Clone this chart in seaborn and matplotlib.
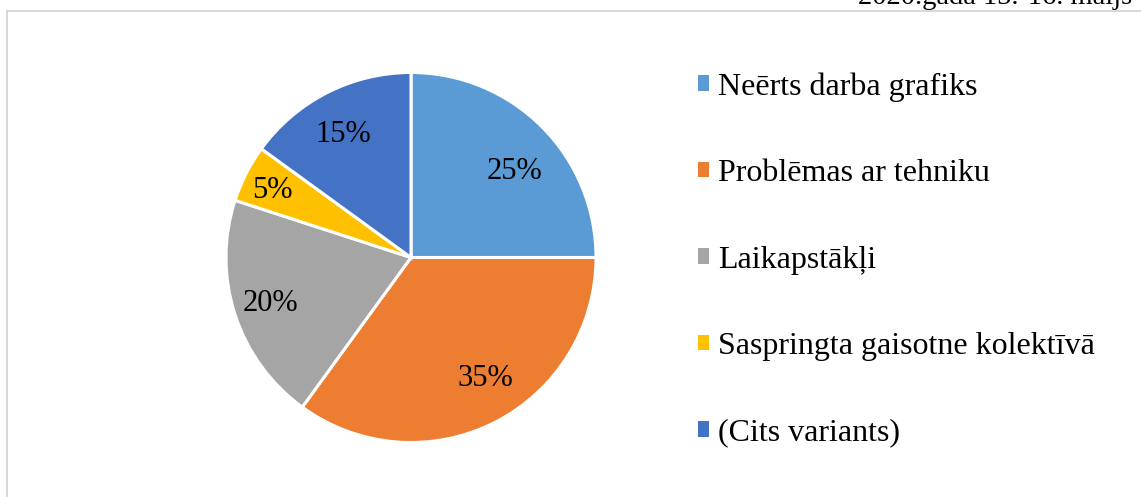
import numpy as np
import seaborn as sns
import matplotlib.pyplot as plt
from matplotlib.patches import Rectangle, Patch

# data
categories = [
    "Neērts darba grafiks",
    "Problēmas ar tehniku",
    "Laikapstākļi",
    "Saspringta gaisotne kolektīvā",
    "(Cits variants)",
]
shares = [25, 35, 20, 5, 15]
colors = ["#5B9BD5", "#ED7D31", "#A5A5A5", "#FFC000", "#4472C4"]
date_text = "2020.gada 15.-16. maijs"

# label placement (fraction of radius, angle tweak in degrees)
label_dist = [0.74, 0.753, 0.794, 0.84, 0.776]
label_turn = [-4, 5.5, -1, 0, 1]


def main():
    sns.set_theme(style="white")
    plt.rcParams["font.family"] = ["Liberation Serif", "DejaVu Serif"]
    plt.rcParams["text.color"] = "black"
    palette = sns.color_palette(colors)

    W, H = 1141, 497
    fig = plt.figure(figsize=(W / 100, H / 100), dpi=100)

    # chart frame (cut off at right and bottom)
    fig.patches.append(
        Rectangle((6.5 / W, -0.1), 1.2, 1 - 10.5 / H + 0.1,
                  transform=fig.transFigure, fill=False,
                  edgecolor="#D9D9D9", linewidth=1.5)
    )
    fig.text(1132 / W, 1 - 4.5 / H, date_text, ha="right", va="baseline",
             fontsize=20.5, color="black")

    ax = fig.add_axes([226 / W, (H - 442.5) / H, 370 / W, 370 / H])
    wedges, texts, autotexts = ax.pie(
        shares,
        colors=palette,
        startangle=90,
        counterclock=False,
        autopct="%d%%",
        wedgeprops={"edgecolor": "white", "linewidth": 2.2},
        textprops={"fontsize": 22, "color": "black"},
    )
    for w, t, d, turn in zip(wedges, autotexts, label_dist, label_turn):
        ang = np.deg2rad((w.theta1 + w.theta2) / 2 + turn)
        t.set_position((d * np.cos(ang), d * np.sin(ang)))
        t.set_va("center_baseline")
    ax.set_xlim(-1, 1)
    ax.set_ylim(-1, 1)
    ax.set_aspect("equal")
    ax.axis("off")

    handles = [Patch(facecolor=c, edgecolor="none") for c in palette]
    leg = fig.legend(
        handles, categories,
        loc="upper left",
        bbox_to_anchor=(698 / W, 1 - 72 / H),
        frameon=False,
        fontsize=23,
        handlelength=0.35,
        handleheight=0.35,
        handletextpad=0.28,
        labelspacing=1.8,
        borderpad=0,
        borderaxespad=0,
    )
    for t in leg.get_texts():
        t.set_color("black")

    fig.savefig("out.png", dpi=100, facecolor="white")
    plt.close(fig)


if __name__ == "__main__":
    main()
